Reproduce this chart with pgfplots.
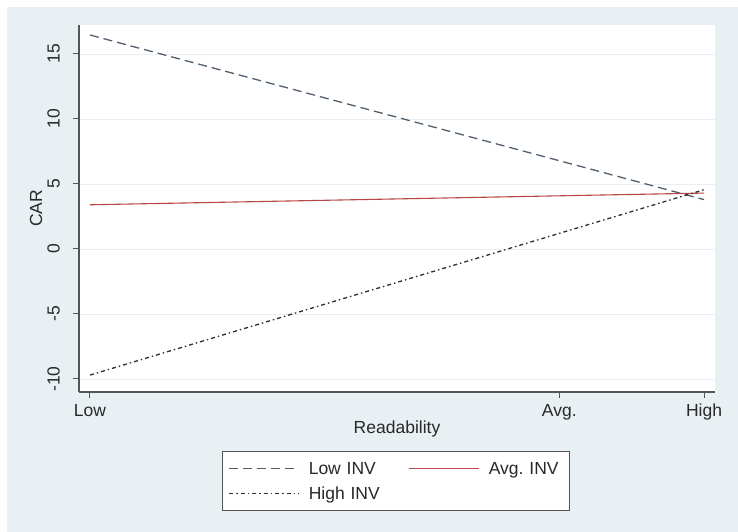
\documentclass[border=0pt]{standalone}
\usepackage{pgfplots}
\pgfplotsset{compat=1.18}
\usepackage{fontspec}
\setmainfont{Liberation Sans}
\definecolor{bgc}{RGB}{233,240,243}
\definecolor{gridc}{RGB}{234,238,240}
\definecolor{axc}{RGB}{85,85,85}
\definecolor{txtc}{RGB}{40,40,40}
\definecolor{lowc}{RGB}{80,95,110}
\definecolor{avgc}{RGB}{185,70,70}
\definecolor{highc}{RGB}{45,45,45}
\newcommand{\fs}{\fontsize{17.5bp}{20bp}\selectfont\frenchspacing}
\begin{document}
\begin{tikzpicture}[x=1bp,y=1bp]
\useasboundingbox (0,0) rectangle (738,532);
\fill[white] (0,0) rectangle (738,532);
\fill[bgc] (7,0) rectangle (738,525);
\begin{axis}[
  at={(79bp,140bp)}, anchor=south west,
  scale only axis, width=636bp, height=367bp,
  xmin=-0.0179, xmax=1.0179,
  ymin=-11.0, ymax=17.23,
  axis background/.style={fill=white},
  axis x line*=bottom, axis y line*=left,
  axis line style={draw=axc, line width=1.2bp, -},
  xtick={0,0.7643,1}, xticklabels={Low,Avg.,High},
  ytick={-10,-5,0,5,10,15},
  yticklabels={-10,-5,0,5,10,15},
  tick align=outside, major tick length=6bp,
  tick style={draw=axc, line width=1bp},
  ymajorgrids, xmajorgrids=false,
  major grid style={draw=gridc, line width=0.8bp},
  tick label style={font=\fs, text=txtc},
  yticklabel style={rotate=90, anchor=south, inner sep=0pt, yshift=13bp},
  xticklabel style={anchor=north, inner sep=0pt, yshift=-6bp},
  xlabel={Readability}, ylabel={CAR},
  every axis x label/.style={at={(axis description cs:0.5,-0.1008)}, anchor=center, font=\fs, text=txtc},
  every axis y label/.style={at={(axis description cs:-0.0676,0.5)}, rotate=90, anchor=center, font=\fs, text=txtc},
  legend columns=2,
  legend cell align=left,
  legend style={at={(axis description cs:0.2248,-0.1608)}, anchor=north west,
    draw=axc, line width=1bp, fill=white, inner xsep=6bp, inner ysep=6bp,
    row sep=3bp,
    nodes={inner sep=0pt, text width=75bp, text height=17bp, text depth=5bp, font=\fs, text=txtc},
    /tikz/every odd column/.append style={column sep=9bp},
    /tikz/every even column/.append style={column sep=25bp}},
  legend image code/.code={\draw[#1] (0bp,0bp) -- (70bp,0bp);},
]
\addplot[lowc, line width=1.3bp, dash pattern=on 9bp off 5bp] coordinates {(0,16.46) (0.7643,6.79) (1,3.8)};
\addlegendentry{Low INV}
\addplot[avgc, line width=1.1bp] coordinates {(0,3.4) (0.7643,4.09) (1,4.3)};
\addlegendentry{Avg. INV}
\addplot[highc, line width=1.3bp, dash pattern=on 4bp off 3bp on 1.5bp off 3bp] coordinates {(0,-9.7) (0.7643,1.2) (1,4.56)};
\addlegendentry{High INV}
\end{axis}
\end{tikzpicture}
\end{document}
